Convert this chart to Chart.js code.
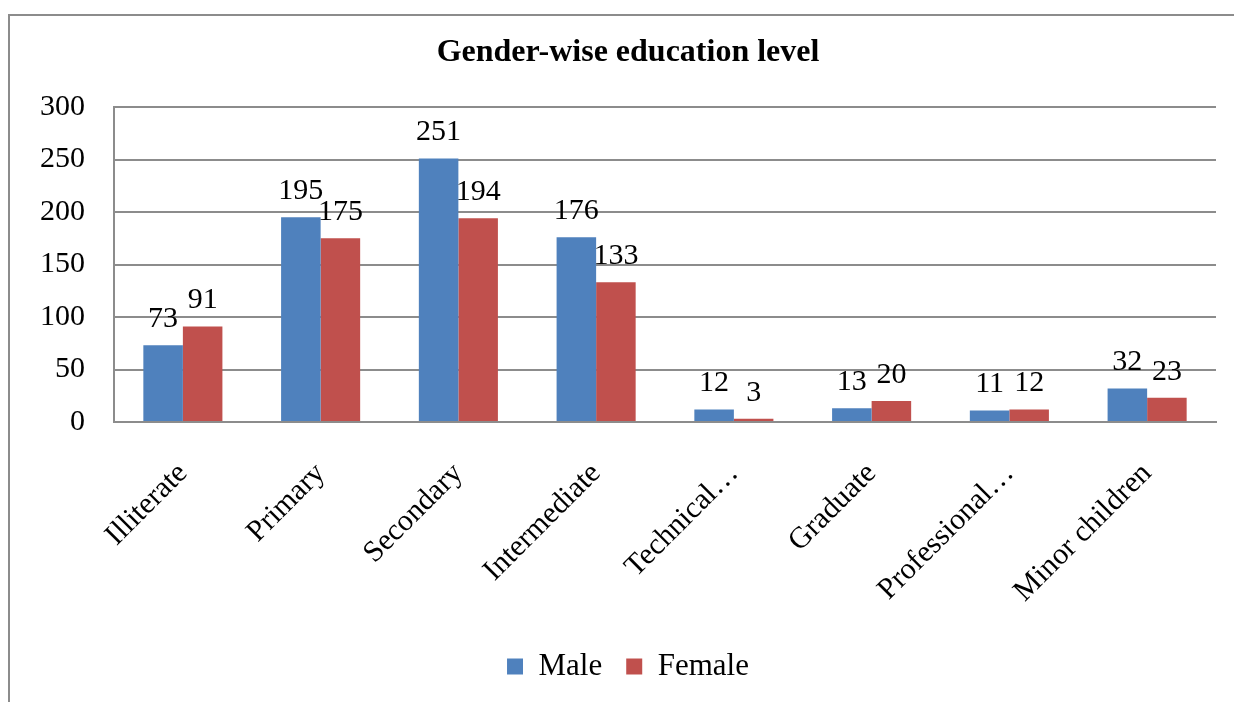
<!DOCTYPE html>
<html>
<head>
<meta charset="utf-8">
<script src="https://cdn.jsdelivr.net/npm/chart.js@4/dist/chart.umd.min.js"></script>
<style>
  html, body { margin: 0; padding: 0; background: #fff; overflow: hidden; }
  body { width: 1234px; height: 702px; position: relative; }
  #frame {
    position: absolute; left: 8px; top: 14px; width: 1240px; height: 700px;
    border-top: 2px solid #8c8c8c; border-left: 2px solid #8c8c8c;
  }
  #wrap { position: absolute; left: 0; top: 0; width: 1234px; height: 686px; }
</style>
</head>
<body>
<div id="frame"><div id="wrap"><canvas id="c"></canvas></div></div>
<script>
// Education levels and head counts by gender
const categories = ['Illiterate', 'Primary', 'Secondary', 'Intermediate', 'Technical\u2026', 'Graduate', 'Professional\u2026', 'Minor children'];
const maleValues = [73, 195, 251, 176, 12, 13, 11, 32];
const femaleValues = [91, 175, 194, 133, 3, 20, 12, 23];
const yTicks = [0, 50, 100, 150, 200, 250, 300];

const SERIF = "'Liberation Serif', 'Times New Roman', serif";

// Writes each bar's value just above its top edge
const valueLabels = {
  id: 'valueLabels',
  afterDatasetsDraw(chart) {
    const ctx = chart.ctx;
    ctx.save();
    ctx.font = '30px ' + SERIF;
    ctx.fillStyle = '#000';
    ctx.textAlign = 'center';
    ctx.textBaseline = 'alphabetic';
    chart.data.datasets.forEach((ds, i) => {
      chart.getDatasetMeta(i).data.forEach((bar, j) => {
        ctx.fillText(String(ds.data[j]), bar.x, bar.y - 18);
      });
    });
    ctx.restore();
  }
};

new Chart(document.getElementById('c'), {
  type: 'bar',
  data: {
    labels: categories,
    datasets: [
      { label: 'Male', data: maleValues, backgroundColor: '#4f81bd', borderWidth: 0 },
      { label: 'Female', data: femaleValues, backgroundColor: '#c0504d', borderWidth: 0 }
    ]
  },
  options: {
    responsive: true,
    maintainAspectRatio: false,
    animation: false,
    events: [],
    datasets: { bar: { categoryPercentage: 0.574, barPercentage: 1.0 } },
    layout: { padding: { left: 30, right: 28, top: 0, bottom: 10 } },
    plugins: {
      title: {
        display: true,
        text: 'Gender-wise education level',
        color: '#000',
        font: { family: SERIF, size: 32, weight: 'bold', lineHeight: 1.2 },
        padding: { top: 18, bottom: 34.6 }
      },
      legend: {
        position: 'bottom',
        labels: {
          color: '#000',
          font: { family: SERIF, size: 31 },
          boxWidth: 16,
          boxHeight: 16,
          padding: 24
        }
      },
      tooltip: { enabled: false }
    },
    scales: {
      x: {
        grid: { display: false, drawTicks: false },
        border: { display: true, color: '#8c8c8c', width: 2 },
        ticks: {
          color: '#000',
          font: { family: SERIF, size: 30 },
          minRotation: 45,
          maxRotation: 45,
          autoSkip: false,
          padding: 34
        },
        afterFit(scale) { scale.height = 205; }
      },
      y: {
        min: 0,
        max: 300,
        afterBuildTicks(scale) { scale.ticks = yTicks.map(v => ({ value: v })); },
        grid: { color: '#8c8c8c', lineWidth: 2, drawTicks: false },
        border: { display: true, color: '#8c8c8c', width: 2 },
        ticks: {
          color: '#000',
          font: { family: SERIF, size: 30 },
          padding: 29
        },
        afterFit(scale) { scale.width = 74; }
      }
    }
  },
  plugins: [valueLabels]
});
</script>
</body>
</html>
